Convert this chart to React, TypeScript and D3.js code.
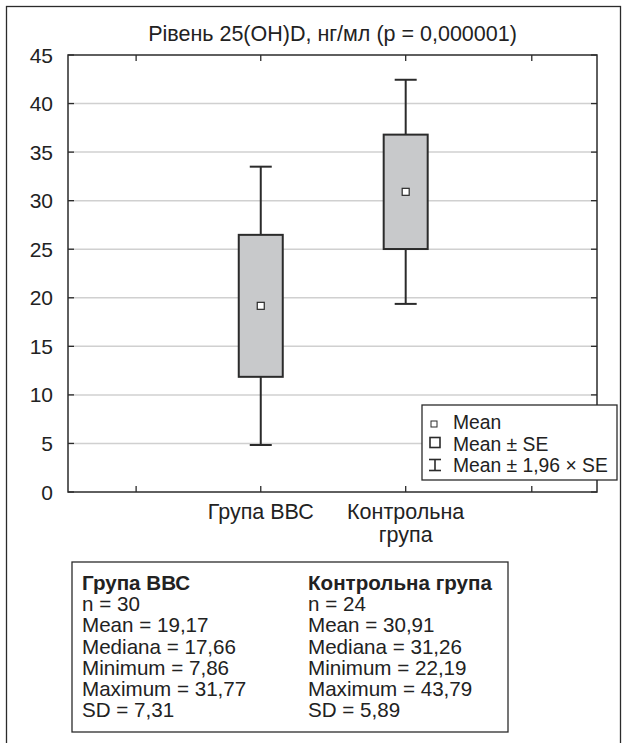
import React from "react";
import * as d3 from "d3";

// values
const groups = ["Група ВВС", "Контрольна група"];
const groupLabels = [["Група ВВС"], ["Контрольна", "група"]];
const groupPos = [0, 1];
const means = [19.17, 30.91];
const boxLow = [11.86, 25.02];
const boxHigh = [26.48, 36.8];
const whiskLow = [4.84, 19.37];
const whiskHigh = [33.5, 42.45];
const yTicks = [0, 5, 10, 15, 20, 25, 30, 35, 40, 45];
const xTicks = [-0.86, 0, 1, 1.87];
const legendItems = ["Mean", "Mean ± SE", "Mean ± 1,96 × SE"];
const statN = ["30", "24"];
const statMean = ["19,17", "30,91"];
const statMedian = ["17,66", "31,26"];
const statMin = ["7,86", "22,19"];
const statMax = ["31,77", "43,79"];
const statSD = ["7,31", "5,89"];

const W = 626;
const H = 743;
const font = "'Liberation Sans', Arial, sans-serif";
const ink = "#2b2b2b";

export default function App() {
  const margin = { top: 55, bottom: 251, left: 68, right: 29 };
  const x = d3.scaleLinear().domain([-1.33, 2.32]).range([margin.left, W - margin.right]);
  const y = d3.scaleLinear().domain([0, 45]).range([H - margin.bottom, margin.top]);
  const [x0, x1] = x.range();
  const [yb, yt] = y.range();
  const boxW = 44;
  const capW = 22;
  const tick = 6;

  const statRows = (i: number) => [
    `n = ${statN[i]}`,
    `Mean = ${statMean[i]}`,
    `Mediana = ${statMedian[i]}`,
    `Minimum = ${statMin[i]}`,
    `Maximum = ${statMax[i]}`,
    `SD = ${statSD[i]}`,
  ];

  const lg = { x: 422, y: 405, w: 195, h: 75 };

  return (
    <div style={{ position: "absolute", left: 0, top: 0 }}>
      <svg width={W} height={H} style={{ display: "block", fontFamily: font }}>
        <rect x={0} y={0} width={W} height={H} fill="#fff" />
        {/* outer frame, bottom edge runs off the page */}
        <rect x={6.5} y={6.5} width={614} height={760} fill="none" stroke={ink} strokeWidth={1.3} />

        <text x={(x0 + x1) / 2} y={41} textAnchor="middle" fontSize={21.5} fill="#222">
          Рівень 25(OH)D, нг/мл (p = 0,000001)
        </text>

        {/* grid */}
        {yTicks.filter((t) => t > 0 && t < 45).map((t) => (
          <line key={"g" + t} x1={x0} x2={x1} y1={y(t)} y2={y(t)} stroke="#d0d0d0" strokeWidth={1.5} />
        ))}

        {/* y ticks + labels */}
        {yTicks.map((t) => (
          <g key={"y" + t}>
            <line x1={x0} x2={x0 + tick} y1={y(t)} y2={y(t)} stroke={ink} strokeWidth={1.3} />
            <line x1={x1} x2={x1 - tick} y1={y(t)} y2={y(t)} stroke={ink} strokeWidth={1.3} />
            <text x={53} y={y(t)} dy="0.36em" textAnchor="end" fontSize={21} fill="#222">
              {t}
            </text>
          </g>
        ))}

        {/* x ticks */}
        {xTicks.map((t) => (
          <g key={"x" + t}>
            <line x1={x(t)} x2={x(t)} y1={yt} y2={yt + tick} stroke={ink} strokeWidth={1.3} />
            <line x1={x(t)} x2={x(t)} y1={yb} y2={yb - tick} stroke={ink} strokeWidth={1.3} />
          </g>
        ))}

        {/* plot frame */}
        <rect x={x0} y={yt} width={x1 - x0} height={yb - yt} fill="none" stroke={ink} strokeWidth={1.5} />

        {/* category labels */}
        {groupLabels.map((lines, i) => (
          <text key={"c" + i} x={x(groupPos[i])} y={519} textAnchor="middle" fontSize={21.5} fill="#222">
            {lines.map((s, j) => (
              <tspan key={j} x={x(groupPos[i])} dy={j === 0 ? 0 : 23}>
                {s}
              </tspan>
            ))}
          </text>
        ))}

        {/* whiskers, boxes, means */}
        {groups.map((g, i) => {
          const cx = x(groupPos[i]);
          return (
            <g key={g}>
              <line x1={cx} x2={cx} y1={y(whiskHigh[i])} y2={y(whiskLow[i])} stroke={ink} strokeWidth={2} />
              <line x1={cx - capW / 2} x2={cx + capW / 2} y1={y(whiskHigh[i])} y2={y(whiskHigh[i])} stroke={ink} strokeWidth={2} />
              <line x1={cx - capW / 2} x2={cx + capW / 2} y1={y(whiskLow[i])} y2={y(whiskLow[i])} stroke={ink} strokeWidth={2} />
              <rect
                x={cx - boxW / 2}
                y={y(boxHigh[i])}
                width={boxW}
                height={y(boxLow[i]) - y(boxHigh[i])}
                fill="#c8c9cb"
                stroke={ink}
                strokeWidth={2}
              />
              <rect x={cx - 3.5} y={y(means[i]) - 3.5} width={7} height={7} fill="#fff" stroke={ink} strokeWidth={1.2} />
            </g>
          );
        })}

        {/* legend */}
        <g>
          <rect x={lg.x} y={lg.y} width={lg.w} height={lg.h} fill="#fff" stroke={ink} strokeWidth={1.3} />
          <rect x={431} y={421} width={6} height={6} fill="#fff" stroke={ink} strokeWidth={1} />
          <rect x={430} y={437.5} width={10} height={10} fill="#fff" stroke={ink} strokeWidth={1.6} />
          <g stroke={ink} strokeWidth={1.6}>
            <line x1={429} x2={441} y1={459.5} y2={459.5} />
            <line x1={435} x2={435} y1={459.5} y2={470.5} />
            <line x1={429} x2={441} y1={470.5} y2={470.5} />
          </g>
          {legendItems.map((s, i) => (
            <text key={s} x={453} y={429 + i * 21.5} fontSize={19.3} fill="#222">
              {s}
            </text>
          ))}
        </g>

        {/* statistics box */}
        <rect x={72} y={562} width={436} height={170} fill="#fff" stroke={ink} strokeWidth={1.3} />
        {groups.map((g, i) => {
          const tx = i === 0 ? 82 : 308;
          return (
            <g key={"s" + g} fontSize={20.6} fill="#222">
              <text x={tx} y={590} fontWeight="bold">
                {g}
              </text>
              {statRows(i).map((r, j) => (
                <text key={r} x={tx} y={590 + (j + 1) * 21.2}>
                  {r}
                </text>
              ))}
            </g>
          );
        })}
      </svg>
    </div>
  );
}
